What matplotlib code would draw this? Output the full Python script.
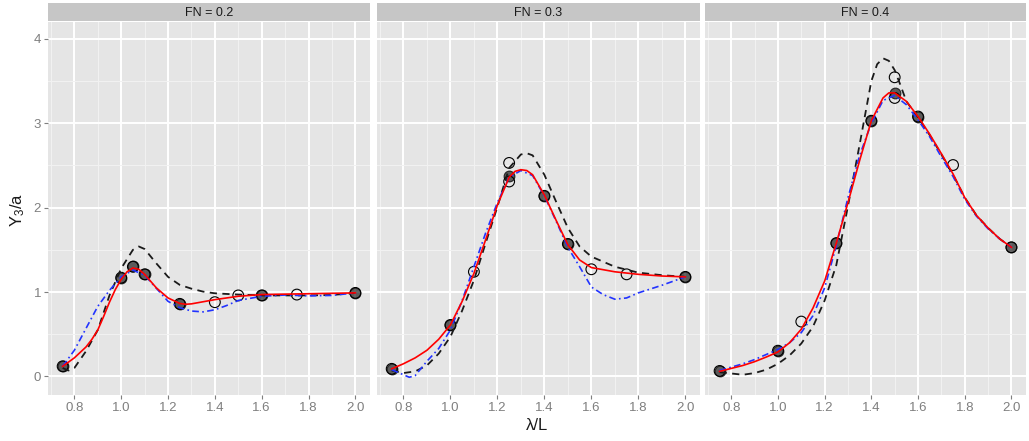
import matplotlib
matplotlib.use("Agg")
import matplotlib.pyplot as plt
from matplotlib.ticker import MultipleLocator

plt.rcParams['font.family'] = ['Liberation Sans', 'DejaVu Sans']
plt.rcParams['mathtext.fontset'] = 'custom'
plt.rcParams['mathtext.rm'] = 'Liberation Sans'
plt.rcParams['mathtext.it'] = 'Liberation Sans'

facets = ["FN = 0.2", "FN = 0.3", "FN = 0.4"]

# experiment (open circles)
exp_x = [
    [0.75, 1.0, 1.05, 1.1, 1.25, 1.4, 1.5, 1.6, 1.75, 2.0],
    [0.75, 1.0, 1.1, 1.25, 1.25, 1.4, 1.5, 1.6, 1.75, 2.0],
    [0.75, 1.0, 1.1, 1.25, 1.4, 1.5, 1.5, 1.6, 1.75, 2.0],
]
exp_y = [
    [0.12, 1.17, 1.30, 1.21, 0.86, 0.88, 0.96, 0.96, 0.97, 0.99],
    [0.09, 0.61, 1.24, 2.53, 2.31, 2.14, 1.57, 1.27, 1.21, 1.18],
    [0.065, 0.305, 0.65, 1.58, 3.03, 3.545, 3.30, 3.08, 2.505, 1.53],
]

# computed points (filled)
calc_x = [
    [0.75, 1.0, 1.05, 1.1, 1.25, 1.6, 2.0],
    [0.75, 1.0, 1.25, 1.4, 1.5, 2.0],
    [0.75, 1.0, 1.25, 1.4, 1.5, 1.6, 2.0],
]
calc_y = [
    [0.12, 1.17, 1.31, 1.21, 0.86, 0.96, 0.99],
    [0.09, 0.61, 2.38, 2.14, 1.57, 1.18],
    [0.065, 0.305, 1.58, 3.03, 3.355, 3.08, 1.53],
]

# red solid curves
red_x = [
    [0.75, 0.8, 0.85, 0.875, 0.9, 0.925, 0.95, 0.975, 1.0, 1.025, 1.05, 1.075, 1.1, 1.125, 1.15, 1.2, 1.25, 1.275, 1.3, 1.35, 1.4, 1.5, 1.6, 1.7, 1.8, 1.9, 2.0],
    [0.75, 0.8, 0.85, 0.9, 0.95, 1.0, 1.05, 1.1, 1.15, 1.2, 1.25, 1.275, 1.3, 1.325, 1.35, 1.4, 1.45, 1.5, 1.55, 1.6, 1.7, 1.8, 1.9, 2.0],
    [0.75, 0.8, 0.85, 0.9, 0.95, 1.0, 1.05, 1.1, 1.15, 1.2, 1.25, 1.3, 1.35, 1.4, 1.45, 1.475, 1.5, 1.55, 1.6, 1.65, 1.7, 1.75, 1.8, 1.85, 1.9, 1.95, 2.0],
]
red_y = [
    [0.12, 0.22, 0.35, 0.44, 0.55, 0.71, 0.88, 1.03, 1.15, 1.24, 1.285, 1.27, 1.21, 1.13, 1.05, 0.93, 0.865, 0.855, 0.86, 0.885, 0.91, 0.95, 0.97, 0.975, 0.98, 0.985, 0.99],
    [0.09, 0.15, 0.22, 0.31, 0.44, 0.61, 0.89, 1.22, 1.62, 2.03, 2.36, 2.43, 2.45, 2.44, 2.39, 2.15, 1.85, 1.56, 1.38, 1.29, 1.24, 1.21, 1.19, 1.18],
    [0.06, 0.095, 0.13, 0.175, 0.23, 0.29, 0.40, 0.56, 0.81, 1.13, 1.58, 2.06, 2.56, 3.03, 3.30, 3.36, 3.36, 3.26, 3.08, 2.87, 2.64, 2.40, 2.12, 1.91, 1.76, 1.63, 1.53],
]

# black dashed curves
dash_x = [
    [0.75, 0.775, 0.8, 0.85, 0.9, 0.95, 1.0, 1.05, 1.075, 1.1, 1.15, 1.2, 1.25, 1.3, 1.35, 1.4, 1.5, 1.6, 1.7, 1.8, 1.9, 2.0],
    [0.75, 0.8, 0.85, 0.9, 0.95, 1.0, 1.05, 1.1, 1.15, 1.2, 1.25, 1.3, 1.325, 1.35, 1.4, 1.45, 1.5, 1.55, 1.6, 1.7, 1.8, 1.9, 2.0],
    [0.75, 0.8, 0.85, 0.9, 0.95, 1.0, 1.05, 1.1, 1.15, 1.2, 1.25, 1.3, 1.35, 1.4, 1.425, 1.45, 1.475, 1.5, 1.525, 1.55, 1.6, 1.65, 1.7, 1.75, 1.8, 1.85, 1.9, 1.95, 2.0],
]
dash_y = [
    [0.10, 0.07, 0.10, 0.30, 0.55, 0.96, 1.28, 1.50, 1.54, 1.51, 1.34, 1.18, 1.085, 1.04, 1.005, 0.985, 0.97, 0.96, 0.96, 0.96, 0.965, 0.99],
    [0.07, 0.04, 0.06, 0.13, 0.27, 0.47, 0.78, 1.14, 1.58, 2.01, 2.47, 2.63, 2.645, 2.62, 2.39, 2.07, 1.76, 1.54, 1.42, 1.30, 1.23, 1.20, 1.18],
    [0.05, 0.035, 0.02, 0.04, 0.08, 0.15, 0.25, 0.39, 0.59, 0.90, 1.32, 2.02, 2.75, 3.50, 3.70, 3.77, 3.74, 3.63, 3.45, 3.26, 3.07, 2.86, 2.63, 2.39, 2.12, 1.91, 1.76, 1.63, 1.53],
]

# blue dash-dot curves
blue_x = [
    [0.75, 0.8, 0.85, 0.9, 0.95, 1.0, 1.05, 1.1, 1.15, 1.2, 1.25, 1.3, 1.35, 1.4, 1.45, 1.5, 1.6, 1.7, 1.8, 1.9, 2.0],
    [0.75, 0.8, 0.825, 0.85, 0.9, 0.95, 1.0, 1.05, 1.1, 1.15, 1.2, 1.25, 1.3, 1.35, 1.4, 1.45, 1.5, 1.55, 1.6, 1.65, 1.7, 1.75, 1.8, 1.9, 2.0],
    [0.75, 0.8, 0.85, 0.9, 0.95, 1.0, 1.05, 1.1, 1.15, 1.2, 1.25, 1.3, 1.35, 1.4, 1.45, 1.5, 1.55, 1.6, 1.65, 1.7, 1.75, 1.8, 1.85, 1.9, 1.95, 2.0],
]
blue_y = [
    [0.12, 0.31, 0.57, 0.83, 1.02, 1.18, 1.26, 1.20, 1.045, 0.89, 0.815, 0.775, 0.765, 0.79, 0.84, 0.90, 0.95, 0.965, 0.955, 0.96, 0.99],
    [0.08, 0.02, -0.01, 0.01, 0.18, 0.33, 0.55, 0.90, 1.30, 1.70, 2.06, 2.36, 2.44, 2.38, 2.14, 1.84, 1.53, 1.30, 1.06, 0.97, 0.915, 0.93, 0.99, 1.08, 1.18],
    [0.07, 0.11, 0.15, 0.20, 0.26, 0.32, 0.40, 0.52, 0.72, 1.05, 1.55, 2.12, 2.62, 3.00, 3.27, 3.33, 3.22, 3.04, 2.84, 2.60, 2.37, 2.10, 1.90, 1.75, 1.63, 1.53],
]

W, H = 1029, 441
fig = plt.figure(figsize=(W / 100, H / 100), dpi=100)


def box(l, t, r, b):
    return [l / W, 1 - b / H, (r - l) / W, (b - t) / H]


spans = [(48, 370), (377, 700), (705, 1026)]
for i, (l, r) in enumerate(spans):
    ax = fig.add_axes(box(l, 22, r, 395))
    ax.set_facecolor('#E5E5E5')
    for s in ax.spines.values():
        s.set_visible(False)
    ax.set_xlim(0.6875, 2.0625)
    ax.set_ylim(-0.22, 4.2)
    ax.xaxis.set_major_locator(MultipleLocator(0.2))
    ax.xaxis.set_minor_locator(MultipleLocator(0.1))
    ax.yaxis.set_major_locator(MultipleLocator(1))
    ax.yaxis.set_minor_locator(MultipleLocator(0.5))
    ax.grid(which='minor', color='#F2F2F2', lw=0.7)
    ax.grid(which='major', color='white', lw=1.4)
    ax.set_axisbelow(True)
    ax.tick_params(which='minor', length=0)
    ax.tick_params(which='major', length=3, width=0.8, color='#7F7F7F',
                   labelcolor='#7F7F7F', labelsize=9.5, pad=2)
    ax.set_xticks([0.8, 1.0, 1.2, 1.4, 1.6, 1.8, 2.0])
    ax.set_xticklabels(['0.8', '1.0', '1.2', '1.4', '1.6', '1.8', '2.0'])
    if i > 0:
        ax.tick_params(axis='y', which='major', length=0, labelleft=False)

    ax.scatter(calc_x[i], calc_y[i], s=60, facecolor=(0, 0, 0, 0.6),
               edgecolor=(0, 0, 0, 0.75), lw=0.8, zorder=3)
    ax.scatter(exp_x[i], exp_y[i], s=60, facecolor='none',
               edgecolor='black', lw=0.8, zorder=3)
    ax.plot(dash_x[i], dash_y[i], color='#1a1a1a', lw=1.3, ls=(0, (4, 3)), zorder=4)
    ax.plot(blue_x[i], blue_y[i], color='#2233ff', lw=1.2, ls=(0, (4, 2, 1, 2)), zorder=4)
    ax.plot(red_x[i], red_y[i], color='#FF0000', lw=1.2, zorder=5)

    sax = fig.add_axes(box(l, 3, r, 21))
    sax.set_facecolor('#C6C6C6')
    sax.set_xticks([])
    sax.set_yticks([])
    for s in sax.spines.values():
        s.set_visible(False)
    sax.text(0.5, 0.45, facets[i], ha='center', va='center', fontsize=9,
             color='#1a1a1a', transform=sax.transAxes)

fig.text(18 / W, 1 - 210 / H, r'$\mathrm{Y}_3\mathrm{/a}$', rotation=90,
         ha='center', va='center', fontsize=12, color='#1a1a1a')
fig.text(537 / W, 1 - 426 / H, 'λ/L', ha='center', va='center',
         fontsize=12, color='#1a1a1a')

fig.savefig('out.png', dpi=100)
